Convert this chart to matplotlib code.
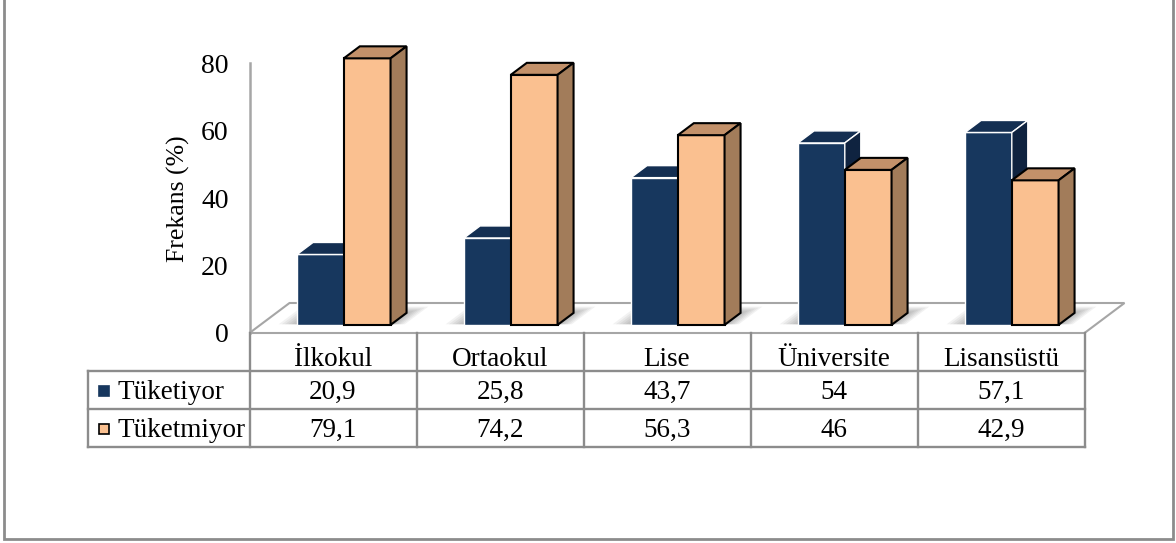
import matplotlib
matplotlib.use("Agg")
import matplotlib.pyplot as plt
from matplotlib.patches import Polygon, Rectangle

categories = ["İlkokul", "Ortaokul", "Lise", "Üniversite", "Lisansüstü"]
series_names = ["Tüketiyor", "Tüketmiyor"]
tuketiyor = [20.9, 25.8, 43.7, 54, 57.1]
tuketmiyor = [79.1, 74.2, 56.3, 46, 42.9]
yticks = [0, 20, 40, 60, 80]

plt.rcParams["font.family"] = ["Liberation Serif", "DejaVu Serif"]

W, H = 1176, 543
fig = plt.figure(figsize=(W / 100, H / 100), dpi=100)

# front plane of the 3-D box: category pitch and pixels per percent
LEFT_PX, ZERO_PX = 249.5, 333.0
PITCH, PPV = 167.0, 3.37
ax = fig.add_axes([LEFT_PX / W, (H - ZERO_PX) / H, PITCH * 5 / W, PPV * 80 / H])
ax.set_xlim(-0.5, len(categories) - 0.5)
ax.set_ylim(0, 80)
ax.patch.set_visible(False)

# depth direction (full floor depth) expressed in data units
DX, DY = 40.0 / PITCH, 30.0 / PPV


def P(x, v, d):
    return (x + d * DX, v + d * DY)


def py(ypx):
    """vertical pixel position (from top) -> value units"""
    return (ZERO_PX - ypx) / PPV


def px(xpx):
    """horizontal pixel position -> category units"""
    return -0.5 + (xpx - LEFT_PX) / PITCH


n = len(categories)
# floor
floor = Polygon([P(-0.5, 0, 0), P(n - 0.5, 0, 0), P(n - 0.5, 0, 1), P(-0.5, 0, 1)],
                closed=True, facecolor="white", edgecolor="#a6a6a6", lw=1.5,
                clip_on=False, zorder=1)
ax.add_patch(floor)

# axis styling
for s in ["top", "right", "bottom"]:
    ax.spines[s].set_visible(False)
ax.spines["left"].set_color("#a6a6a6")
ax.spines["left"].set_linewidth(1.8)
ax.set_xticks([])
ax.set_yticks(yticks)
ax.set_yticklabels([str(t) for t in yticks], fontsize=20)
ax.tick_params(axis="y", length=0, pad=15)

fig.text(178 / W, 1 - 199 / H, "Frekans (%)", rotation=90, ha="center",
         va="center", fontsize=18.5)

# bars
BW = 0.28
D0, D1 = 0.27, 0.67
styles = [
    dict(front="#17375e", top="#142f52", side="#0f2340", edge="white", lw=1.0),
    dict(front="#fac090", top="#c3916a", side="#a27c5a", edge="black", lw=1.5),
]


def box(x0, x1, h, st, z):
    front = [P(x0, 0, D0), P(x1, 0, D0), P(x1, h, D0), P(x0, h, D0)]
    top = [P(x0, h, D0), P(x1, h, D0), P(x1, h, D1), P(x0, h, D1)]
    side = [P(x1, 0, D0), P(x1, 0, D1), P(x1, h, D1), P(x1, h, D0)]
    for pts, fc in ((front, st["front"]), (top, st["top"]), (side, st["side"])):
        ax.add_patch(Polygon(pts, closed=True, facecolor=fc, edgecolor=st["edge"],
                             lw=st["lw"], joinstyle="miter", clip_on=False, zorder=z))


for i in range(n):
    # soft shadow on the floor around the bar pair
    for k in range(6, 0, -1):
        e = k * 3.2 / PITCH
        ed = k * 0.035
        sh = [P(i - BW - e, 0, D0 + 0.02), P(i + BW + e * 0.7, 0, D0 + 0.02),
              P(i + BW + e * 0.7, 0, D1 + ed), P(i - BW - e, 0, D1 + ed)]
        ax.add_patch(Polygon(sh, closed=True, facecolor="#4a4a4a", edgecolor="none",
                             alpha=0.07, clip_on=False, zorder=2))
    box(i - BW, i, tuketiyor[i], styles[0], 3 + i * 2)
    box(i, i + BW, tuketmiyor[i], styles[1], 4 + i * 2)

# data table beneath the plot
GRID = "#8c8c8c"
rows_px = [ZERO_PX, 371, 409, 447]
baselines_px = [366, 399, 437]
xl = px(88)
tkw = dict(color=GRID, lw=1.7, clip_on=False, zorder=5, solid_capstyle="projecting")
for j in range(n + 1):
    xb = j - 0.5
    ax.plot([xb, xb], [py(rows_px[0]), py(rows_px[-1])], **tkw)
for r in rows_px[1:]:
    ax.plot([xl, n - 0.5], [py(r), py(r)], **tkw)
ax.plot([xl, xl], [py(rows_px[1]), py(rows_px[-1])], **tkw)

tfs = 19.5
for i, c in enumerate(categories):
    ax.text(i, py(baselines_px[0]), c, ha="center", va="baseline",
            fontsize=tfs, clip_on=False)


def fmt(v):
    return f"{v:g}".replace(".", ",")


series = [tuketiyor, tuketmiyor]
for r, (name, vals) in enumerate(zip(series_names, series)):
    yb = py(baselines_px[r + 1])
    for i, v in enumerate(vals):
        ax.text(i, yb, fmt(v), ha="center", va="baseline", fontsize=tfs, clip_on=False)
    ax.text(px(117), yb, name, ha="left", va="baseline", fontsize=tfs, clip_on=False)
    st = styles[r]
    ks = 10
    yc = (rows_px[r + 1] + rows_px[r + 2]) / 2 + 1
    ax.add_patch(Rectangle((px(99), py(yc) - ks / 2 / PPV),
                           ks / PITCH, ks / PPV, facecolor=st["front"],
                           edgecolor="black" if r == 1 else st["front"], lw=1.2,
                           clip_on=False, zorder=6))

# outer frame
frame = fig.add_axes([0, 0, 1, 1], zorder=-1)
frame.set_xlim(0, W)
frame.set_ylim(H, 0)
frame.axis("off")
frame.add_patch(Rectangle((4, -10), 1169, 549, facecolor="white", edgecolor="#8c8c8c",
                          lw=2))

fig.savefig("out.png", dpi=100)
